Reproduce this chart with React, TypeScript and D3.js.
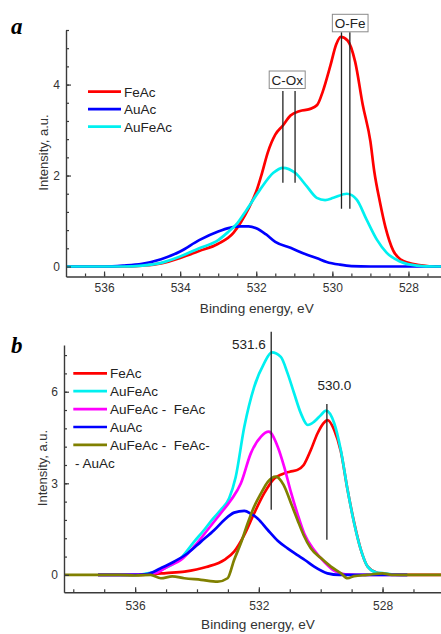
import { useEffect, useRef } from "react";
import * as d3 from "d3";

type Pt = [number, number]; // [binding energy eV, intensity a.u.]

// ---- panel a ----
const feAcA: Pt[] = [
  [537, 0], [535.5, 0], [535.0, 0.02], [534.5, 0.07], [534.0, 0.19], [533.5, 0.34],
  [533.0, 0.5], [532.6, 0.74], [532.4, 0.98], [532.2, 1.28], [532.0, 1.65], [531.85, 2.05],
  [531.7, 2.5], [531.5, 2.9], [531.3, 3.1], [531.1, 3.32], [530.85, 3.42], [530.6, 3.46],
  [530.4, 3.55], [530.25, 3.85], [530.05, 4.42], [529.9, 4.88], [529.78, 5.05], [529.6, 4.97],
  [529.4, 4.5], [529.2, 3.55], [529.0, 2.75], [528.9, 2.1], [528.75, 1.42], [528.6, 0.85],
  [528.4, 0.35], [528.2, 0.15], [528.0, 0.08], [527.7, 0.03], [527.4, 0], [526.8, 0],
];
const auAcA: Pt[] = [
  [537, 0], [536, 0], [535.5, 0.02], [535.0, 0.06], [534.5, 0.16], [534.0, 0.33],
  [533.5, 0.58], [533.0, 0.77], [532.7, 0.85], [532.4, 0.88], [532.2, 0.88], [532.0, 0.84],
  [531.75, 0.71], [531.5, 0.54], [531.1, 0.41], [530.7, 0.27], [530.4, 0.18], [530.15, 0.1],
  [529.8, 0.04], [529.5, 0.01], [529, 0], [526.8, 0],
];
const auFeAcA: Pt[] = [
  [537, 0], [535.5, 0], [535.0, 0.02], [534.5, 0.08], [534.0, 0.22], [533.5, 0.4],
  [533.0, 0.58], [532.75, 0.75], [532.5, 0.95], [532.25, 1.25], [531.9, 1.69], [531.55, 2.06],
  [531.3, 2.17], [530.98, 2.06], [530.67, 1.76], [530.41, 1.51], [530.19, 1.46], [529.97, 1.51],
  [529.62, 1.6], [529.36, 1.47], [529.1, 1.03], [528.83, 0.59], [528.57, 0.3], [528.22, 0.11],
  [527.78, 0.02], [527.3, 0], [526.8, 0],
];

// ---- panel b ----
const feAcB: Pt[] = [
  [537.2, 0], [536, 0], [535.5, 0.02], [535.0, 0.06], [534.4, 0.11], [533.7, 0.26],
  [533.1, 0.5], [532.8, 0.76], [532.47, 1.31], [532.15, 2.02], [531.83, 2.67], [531.5, 3.16],
  [531.25, 3.3], [531.0, 3.38], [530.75, 3.44], [530.55, 3.6], [530.32, 4.09], [530.1, 4.64],
  [529.88, 5.0], [529.78, 5.07], [529.56, 4.74], [529.35, 4.05], [529.13, 2.78], [528.92, 1.72],
  [528.7, 0.82], [528.48, 0.27], [528.2, 0.08], [528.0, 0.04], [527.6, 0.01], [527.2, 0], [526, 0],
];
const auFeAcB: Pt[] = [
  [537.2, 0], [536, 0], [535.6, 0.05], [535.17, 0.16], [534.52, 0.55], [534.09, 1.09],
  [533.77, 1.47], [533.5, 1.82], [533.23, 2.13], [532.96, 2.51], [532.75, 3.2], [532.47, 4.85],
  [532.15, 6.16], [531.83, 6.93], [531.58, 7.29], [531.29, 7.14], [531.07, 6.6], [530.86, 5.95],
  [530.64, 5.29], [530.42, 4.91], [530.21, 5.02], [529.99, 5.24], [529.83, 5.38], [529.56, 4.96],
  [529.35, 4.09], [529.13, 2.78], [528.92, 1.7], [528.7, 0.82], [528.48, 0.27], [528.2, 0.08],
  [528.0, 0.06], [527.7, 0.02], [527.2, 0],
];
const diffB: Pt[] = [
  [537.2, 0], [535.6, 0.02], [535.27, 0.08], [534.95, 0.27], [534.52, 0.49], [534.09, 0.93],
  [533.66, 1.47], [533.23, 2.02], [532.9, 2.45], [532.58, 3.0], [532.26, 3.98], [531.93, 4.53],
  [531.68, 4.69], [531.39, 4.2], [531.18, 3.54], [530.96, 2.7], [530.75, 2.0], [530.53, 1.35],
  [530.2, 0.8], [529.88, 0.42], [529.56, 0.13], [529.2, 0.02], [528.5, 0], [527.2, 0],
];
const auAcB: Pt[] = [
  [537.2, 0], [536.2, 0], [535.6, 0.03], [535.17, 0.22], [534.73, 0.44], [534.3, 0.71],
  [533.87, 1.09], [533.44, 1.47], [533.12, 1.8], [532.8, 2.04], [532.47, 2.1], [532.25, 2.0],
  [532.04, 1.85], [531.71, 1.47], [531.39, 1.12], [531.07, 0.87], [530.75, 0.65], [530.5, 0.48],
  [530.21, 0.27], [529.78, 0.05], [529.4, 0], [527.2, 0],
];
const diff2B: Pt[] = [
  [538.3, 0], [536.5, 0], [536.0, -0.02], [535.5, 0], [535.17, -0.11], [534.8, -0.05],
  [534.41, -0.11], [533.87, -0.16], [533.33, -0.22], [533.01, -0.11], [532.8, 0.49], [532.58, 1.04],
  [532.36, 1.69], [532.15, 2.24], [531.93, 2.67], [531.71, 3.05], [531.45, 3.22], [531.2, 2.95],
  [530.96, 2.35], [530.75, 1.8], [530.55, 1.3], [530.32, 0.87], [529.99, 0.55], [529.67, 0.27],
  [529.34, 0.05], [529.13, -0.11], [528.92, -0.04], [528.5, 0], [528.0, 0.05], [527.7, 0], [526, 0],
];

const seriesA = [
  { name: "FeAc", color: "#ff0000", data: feAcA },
  { name: "AuAc", color: "#0000ff", data: auAcA },
  { name: "AuFeAc", color: "#00f0f0", data: auFeAcA },
];
const seriesB = [
  { name: "FeAc", color: "#ff0000", data: feAcB },
  { name: "AuFeAc", color: "#00f0f0", data: auFeAcB },
  { name: "AuFeAc -  FeAc", color: "#ff00ff", data: diffB },
  { name: "AuAc", color: "#0000ff", data: auAcB },
  { name: "AuFeAc -  FeAc-", color: "#808000", data: diff2B },
];

// annotation lines [energy, from, to]
const coxLines: Pt[][] = [[[531.3, 1.84], [531.3, 3.86]], [[530.98, 1.84], [530.98, 3.86]]];
const ofeLines: Pt[][] = [[[529.76, 1.27], [529.76, 5.15]], [[529.54, 1.27], [529.54, 5.15]]];
const peakLinesB: Pt[][] = [[[531.6, 2.13], [531.6, 7.96]], [[529.8, 1.15], [529.8, 5.6]]];

const FONT = "'Liberation Sans', Arial, sans-serif";
const AXIS = "#3a3a3a";

export default function App() {
  const svgRef = useRef<SVGSVGElement>(null);

  useEffect(() => {
    const svg = d3.select(svgRef.current);
    svg.selectAll("*").remove();

    function panel(opts: any) {
      const { xDom, xRange, yDom, yRange, xMajor, xMinor, yMajor, yMinor, series, id, xPad } = opts;
      const x = d3.scaleLinear().domain(xDom).range(xRange);
      const y = d3.scaleLinear().domain(yDom).range(yRange);
      const g = svg.append("g");

      g.append("clipPath").attr("id", id)
        .append("rect")
        .attr("x", xRange[0]).attr("y", yRange[1])
        .attr("width", xRange[1] - xRange[0]).attr("height", yRange[0] - yRange[1]);

      const line = d3.line<Pt>()
        .x(d => x(d[0]))
        .y(d => y(d[1]))
        .curve(d3.curveMonotoneX);

      const plot = g.append("g").attr("clip-path", `url(#${id})`);
      series.forEach((s: any) => {
        plot.append("path")
          .datum(s.data)
          .attr("fill", "none")
          .attr("stroke", s.color)
          .attr("stroke-width", 2.7)
          .attr("stroke-linejoin", "round")
          .attr("d", line);
      });

      // x axis
      const gx = g.append("g").attr("transform", `translate(0,${yRange[0]})`);
      gx.call(d3.axisBottom(x).tickValues(xMinor).tickSizeInner(-3).tickSizeOuter(0).tickFormat(() => ""));
      gx.select(".domain").remove();
      const gx2 = g.append("g").attr("transform", `translate(0,${yRange[0]})`);
      gx2.call(d3.axisBottom(x).tickValues(xMajor).tickSizeInner(-5).tickSizeOuter(0).tickPadding(xPad).tickFormat(d3.format("d")));

      // y axis
      const gy = g.append("g").attr("transform", `translate(${xRange[0]},0)`);
      gy.call(d3.axisLeft(y).tickValues(yMinor).tickSizeInner(-3).tickSizeOuter(0).tickFormat(() => ""));
      gy.select(".domain").remove();
      const gy2 = g.append("g").attr("transform", `translate(${xRange[0]},0)`);
      gy2.call(d3.axisLeft(y).tickValues(yMajor).tickSizeInner(-5).tickSizeOuter(0).tickPadding(6).tickFormat(d3.format("d")));

      g.selectAll(".domain").attr("stroke", AXIS).attr("stroke-width", 1.4);
      g.selectAll(".tick line").attr("stroke", AXIS).attr("stroke-width", 1.2);
      g.selectAll(".tick text").attr("fill", "#333").attr("font-size", 12).attr("font-family", FONT);

      return { x, y, g };
    }

    // ---- panel a ----
    const a = panel({
      id: "clipA",
      xDom: [537, 527], xRange: [66, 446.5],
      yDom: [-0.22, 5.2], yRange: [276.5, 30],
      xMajor: [536, 534, 532, 530, 528],
      xMinor: d3.range(536.5, 526.9, -0.5),
      yMajor: [0, 2, 4],
      yMinor: d3.range(0.4, 5.21, 0.4),
      series: seriesA,
      xPad: 7,
    });

    const segLine = d3.line<Pt>().x(d => a.x(d[0])).y(d => a.y(d[1]));
    [...coxLines, ...ofeLines].forEach(l => {
      a.g.append("path").attr("d", segLine(l)).attr("stroke", "#222").attr("stroke-width", 1.3).attr("fill", "none");
    });

    function boxLabel(g: any, text: string, cx: number, top: number, w: number, h: number) {
      g.append("rect").attr("x", cx - w / 2).attr("y", top).attr("width", w).attr("height", h)
        .attr("fill", "white").attr("stroke", "#8a8a8a").attr("stroke-width", 1);
      g.append("text").attr("x", cx).attr("y", top + h / 2).attr("dy", "0.36em")
        .attr("text-anchor", "middle").attr("font-family", FONT).attr("font-size", 13.5)
        .attr("fill", "#222").text(text);
    }
    boxLabel(a.g, "C-Ox", 287.2, 71, 36, 17.5);
    boxLabel(a.g, "O-Fe", 350.2, 14.3, 35.7, 17.5);

    seriesA.forEach((s, i) => {
      const yy = 91.7 + i * 17.5;
      a.g.append("line").attr("x1", 88).attr("x2", 121).attr("y1", yy).attr("y2", yy)
        .attr("stroke", s.color).attr("stroke-width", 2.7);
      a.g.append("text").attr("x", 124).attr("y", yy).attr("dy", "0.36em")
        .attr("font-family", FONT).attr("font-size", 13.5).attr("fill", "#222").text(s.name);
    });

    a.g.append("text").attr("transform", "translate(43,152.5) rotate(-90)").attr("dy", "0.36em")
      .attr("text-anchor", "middle").attr("font-family", FONT).attr("font-size", 13).attr("fill", "#333")
      .text("Intensity, a.u.");
    a.g.append("text").attr("x", 256.8).attr("y", 313.3).attr("text-anchor", "middle")
      .attr("font-family", FONT).attr("font-size", 13.6).attr("fill", "#333").text("Binding energy, eV");
    svg.append("text").attr("x", 11).attr("y", 34.3).attr("font-family", "'Liberation Serif', 'Times New Roman', serif")
      .attr("font-weight", "bold").attr("font-style", "italic").attr("font-size", 23).text("a");

    // ---- panel b ----
    const b = panel({
      id: "clipB",
      xDom: [538.3, 526], xRange: [64, 444.4],
      yDom: [-0.57, 7.53], yRange: [592.3, 345],
      xMajor: [536, 532, 528],
      xMinor: d3.range(538, 526, -1),
      yMajor: [0, 3, 6],
      yMinor: d3.range(0.6, 7.3, 0.6),
      series: seriesB,
      xPad: 9,
    });

    const segLineB = d3.line<Pt>().x(d => b.x(d[0])).y(d => b.y(d[1]));
    peakLinesB.forEach(l => {
      svg.append("path").attr("d", segLineB(l)).attr("stroke", "#222").attr("stroke-width", 1.3).attr("fill", "none");
    });
    svg.append("text").attr("x", 265.7).attr("y", 349.3).attr("text-anchor", "end")
      .attr("font-family", FONT).attr("font-size", 13.5).attr("fill", "#222").text("531.6");
    svg.append("text").attr("x", 334.5).attr("y", 390).attr("text-anchor", "middle")
      .attr("font-family", FONT).attr("font-size", 13.5).attr("fill", "#222").text("530.0");

    seriesB.forEach((s, i) => {
      const yy = 373.3 + i * 17.9;
      b.g.append("line").attr("x1", 73.3).attr("x2", 107).attr("y1", yy).attr("y2", yy)
        .attr("stroke", s.color).attr("stroke-width", 2.7);
      b.g.append("text").attr("x", 110).attr("y", yy).attr("dy", "0.36em")
        .attr("font-family", FONT).attr("font-size", 13.5).attr("fill", "#222")
        .style("white-space", "pre").text(s.name);
    });
    b.g.append("text").attr("x", 75).attr("y", 373.3 + 5 * 17.9).attr("dy", "0.36em")
      .attr("font-family", FONT).attr("font-size", 13.5).attr("fill", "#222").text("- AuAc");

    b.g.append("text").attr("transform", "translate(42,468) rotate(-90)").attr("dy", "0.36em")
      .attr("text-anchor", "middle").attr("font-family", FONT).attr("font-size", 13).attr("fill", "#333")
      .text("Intensity, a.u.");
    b.g.append("text").attr("x", 258).attr("y", 629).attr("text-anchor", "middle")
      .attr("font-family", FONT).attr("font-size", 13.6).attr("fill", "#333").text("Binding energy, eV");
    svg.append("text").attr("x", 11).attr("y", 353).attr("font-family", "'Liberation Serif', 'Times New Roman', serif")
      .attr("font-weight", "bold").attr("font-style", "italic").attr("font-size", 23).text("b");
  }, []);

  return (
    <svg
      ref={svgRef}
      width={441}
      height={634}
      style={{ position: "absolute", left: 0, top: 0, background: "white", display: "block" }}
    />
  );
}
